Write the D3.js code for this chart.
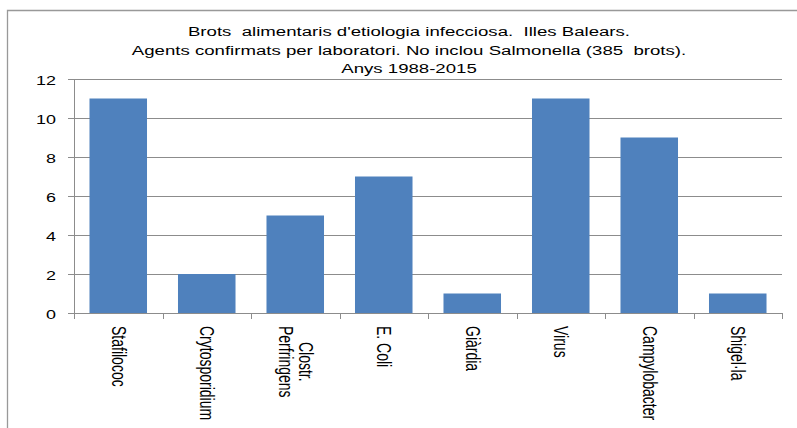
<!DOCTYPE html>
<head>
    <meta charset="utf-8">
    <title>Brots alimentaris</title>
    <script src="https://d3js.org/d3.v7.min.js"></script>
    <style>
        body { margin: 0; background: #fff; }
        text { font-family: "Liberation Sans", Arial, sans-serif; fill: #000; }
    </style>
</head>
<body>
<svg></svg>
<script>
    // data
    var categories = ["Stafilococ", "Crytosporidium", "Clostr.\nPerfringens", "E. Coli",
                      "Giàrdia", "Virus", "Campylobacter", "Shigel·la"];
    var values = [11, 2, 5, 7, 1, 11, 9, 1];
    var yTicks = [0, 2, 4, 6, 8, 10, 12];
    var titleLines = ["Brots  alimentaris d'etiologia infecciosa.  Illes Balears.",
                      "Agents confirmats per laboratori. No inclou Salmonella (385  brots).",
                      "Anys 1988-2015"];

    var width = 797, height = 428;
    var stretch = 1.38; // the original picture is widened horizontally
    var barColor = "#4f81bd", lineColor = "#8c8c8c";

    var svg = d3.select("svg").attr("width", width).attr("height", height);

    // chart frame
    svg.append("path")
        .attr("d", "M7.5," + height + "V10.5H" + width)
        .attr("fill", "none").attr("stroke", "#999").attr("stroke-width", 1.3);

    var x = d3.scaleBand().domain(categories).range([74, 782])
        .paddingInner(0.35).paddingOuter(0.175);
    var y = d3.scaleLinear().domain([0, 12]).range([313, 79]);

    // title
    titleLines.forEach(function (t, i) {
        svg.append("text")
            .attr("transform", "translate(409," + (36 + i * 18.5) + ") scale(" + stretch + ",1)")
            .attr("text-anchor", "middle")
            .style("font-size", "13.5px")
            .style("white-space", "pre")
            .text(t);
    });

    // gridlines + y axis
    var yAxis = svg.append("g")
        .attr("transform", "translate(74,0)")
        .call(d3.axisLeft(y).tickValues(yTicks).tickSize(6).tickPadding(0));
    yAxis.select(".domain").attr("stroke", lineColor);
    yAxis.selectAll(".tick line").attr("stroke", lineColor);
    yAxis.selectAll(".tick").append("line")
        .attr("x1", 0).attr("x2", 782 - 74)
        .attr("stroke", lineColor);
    yAxis.selectAll(".tick text")
        .attr("x", null).attr("dy", null)
        .attr("transform", "translate(-18,1) scale(" + stretch + ",1)")
        .attr("text-anchor", "end")
        .attr("dominant-baseline", "central")
        .style("font-size", "13px")
        .attr("fill", "#000");

    // bars
    svg.append("g").selectAll("rect")
        .data(values)
        .enter().append("rect")
        .attr("x", function (d, i) { return x(categories[i]); })
        .attr("y", function (d) { return y(d); })
        .attr("width", x.bandwidth())
        .attr("height", function (d) { return y(0) - y(d); })
        .attr("fill", barColor);

    // x axis line and boundary ticks
    var half = x.step() * x.paddingInner() / 2;
    var bounds = categories.map(function (c) { return x(c) - half; });
    bounds.push(x(categories[categories.length - 1]) + x.bandwidth() + half);
    svg.append("line")
        .attr("x1", 74).attr("x2", 782).attr("y1", y(0) + 0.5).attr("y2", y(0) + 0.5)
        .attr("stroke", lineColor);
    svg.append("g").selectAll("line")
        .data(bounds)
        .enter().append("line")
        .attr("x1", function (d) { return Math.round(d) + 0.5; })
        .attr("x2", function (d) { return Math.round(d) + 0.5; })
        .attr("y1", y(0)).attr("y2", y(0) + 6)
        .attr("stroke", lineColor);

    // rotated category labels
    var lineGap = 14;
    categories.forEach(function (c) {
        var lines = c.split("\n");
        var g = svg.append("g")
            .attr("transform", "translate(" + (x(c) + x.bandwidth() / 2) + ",326) scale(" + stretch + ",1) rotate(90)");
        var texts = lines.map(function (l, i) {
            return g.append("text")
                .attr("y", (i - (lines.length - 1) / 2) * lineGap)
                .attr("dominant-baseline", "central")
                .style("font-size", "14px")
                .text(l);
        });
        var maxLen = d3.max(texts, function (t) { return t.node().getComputedTextLength(); });
        texts.forEach(function (t) {
            t.attr("x", (maxLen - t.node().getComputedTextLength()) / 2);
        });
    });
</script>
</body>
